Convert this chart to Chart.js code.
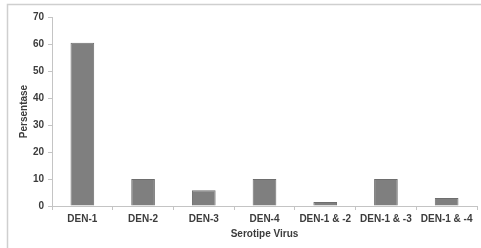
<!DOCTYPE html>
<html>
<head>
<meta charset="utf-8">
<script src="https://cdn.jsdelivr.net/npm/chart.js@4/dist/chart.umd.min.js"></script>
<style>
  html, body { margin: 0; padding: 0; background: #fff; }
  #wrap { width: 481px; height: 248px; position: relative; }
</style>
</head>
<body>
<div id="wrap"><canvas id="myChart"></canvas></div>
<script>
// data
var categories = ["DEN-1", "DEN-2", "DEN-3", "DEN-4", "DEN-1 & -2", "DEN-1 & -3", "DEN-1 & -4"];
var persentase = [60.5, 10, 5.8, 10, 1.5, 10, 3];
var yTicks = [0, 10, 20, 30, 40, 50, 60, 70];

var fontFamily = "'Liberation Sans', Arial, sans-serif";
var textColor = '#3c3c3c';
var axisColor = '#c4c4c4';

// frame around the chart
var framePlugin = {
  id: 'frame',
  beforeDraw: function (chart) {
    var ctx = chart.ctx;
    ctx.save();
    ctx.fillStyle = '#fff';
    ctx.fillRect(0, 0, chart.width, chart.height);
    ctx.strokeStyle = '#cfcfcf';
    ctx.lineWidth = 1.5;
    ctx.strokeRect(7.5, 4.5, chart.width + 10, chart.height + 10);
    ctx.restore();
  }
};

var chart = new Chart('myChart', {
  type: 'bar',
  data: {
    labels: categories,
    datasets: [{
      label: 'Persentase',
      data: persentase,
      backgroundColor: '#7f7f7f',
      borderColor: '#6e6e6e',
      borderWidth: 1,
      categoryPercentage: 1,
      barPercentage: 0.39
    }]
  },
  options: {
    responsive: true,
    maintainAspectRatio: false,
    animation: false,
    layout: { padding: { top: 17, right: 4, left: 0, bottom: 0 } },
    plugins: {
      legend: { display: false },
      tooltip: { enabled: false }
    },
    scales: {
      x: {
        grid: { drawOnChartArea: false, drawTicks: true, tickLength: 4, color: axisColor, offset: true },
        border: { display: true, color: axisColor },
        ticks: {
          color: textColor, padding: 3, maxRotation: 0, autoSkip: false,
          font: { family: fontFamily, size: 10, weight: 'bold' }
        },
        title: {
          display: true, text: 'Serotipe Virus', color: textColor,
          font: { family: fontFamily, size: 10, weight: 'bold' },
          padding: { top: 4, bottom: 8 }
        },
        afterFit: function (scale) { scale.height = 42; }
      },
      y: {
        min: 0,
        max: 70,
        afterBuildTicks: function (scale) {
          scale.ticks = yTicks.map(function (v) { return { value: v }; });
        },
        grid: { drawOnChartArea: false, drawTicks: true, tickLength: 4, color: axisColor },
        border: { display: true, color: axisColor },
        ticks: {
          color: textColor, padding: 4,
          font: { family: fontFamily, size: 10, weight: 'bold' }
        },
        title: {
          display: true, text: 'Persentase', color: textColor,
          font: { family: fontFamily, size: 10, weight: 'bold' },
          padding: { top: 18, bottom: 0 }
        },
        afterFit: function (scale) { scale.width = 52; }
      }
    }
  },
  plugins: [framePlugin]
});
</script>
</body>
</html>
